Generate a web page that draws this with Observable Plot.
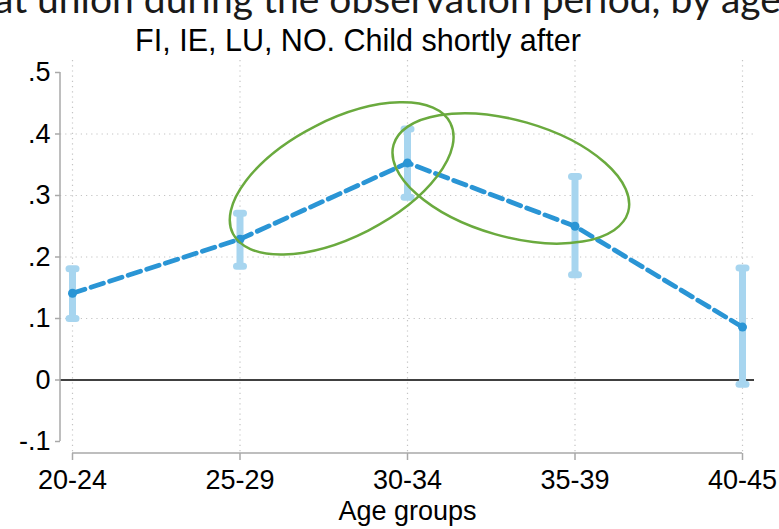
<!DOCTYPE html>
<html><head><meta charset="utf-8">
<script src="https://cdn.jsdelivr.net/npm/d3@7"></script>
<script src="https://cdn.jsdelivr.net/npm/@observablehq/plot@0.6"></script>
<style>
html,body{margin:0;padding:0;background:#fff;overflow:hidden;}
#wrap{position:relative;width:779px;height:529px;overflow:hidden;background:#fff;}
#chart{position:absolute;left:0;top:0;}
#title{position:absolute;left:-6px;top:-21px;white-space:nowrap;font-family:Lato,sans-serif;font-size:39px;color:#1a1a1a;line-height:1;}
#subtitle{position:absolute;left:0;width:716px;text-align:center;top:25px;white-space:nowrap;font-family:"Liberation Sans",Arial,sans-serif;font-size:30.5px;color:#000;line-height:1;}
</style></head>
<body>
<div id="wrap">
  <div id="chart"></div>
  <div id="title">at union during the observation period, by age</div>
  <div id="subtitle">FI, IE, LU, NO. Child shortly after</div>
</div>
<script>
// ---- data ----
const ageGroups = ["20-24", "25-29", "30-34", "35-39", "40-45"];
const estimates = [0.141, 0.229, 0.353, 0.250, 0.086];
const ciLow     = [0.100, 0.185, 0.297, 0.171, -0.007];
const ciHigh    = [0.181, 0.271, 0.408, 0.331, 0.182];
const yTicks    = [-0.1, 0, 0.1, 0.2, 0.3, 0.4, 0.5];
const gridTicks = [0.1, 0.2, 0.3, 0.4];
// annotation ellipses: centre in data units (category index, value)
const ellipseCx = [1.61, 2.62];
const ellipseCy = [0.327, 0.327];

const rows = ageGroups.map((g, i) => ({i, g, est: estimates[i], lo: ciLow[i], hi: ciHigh[i]}));
const idx = ageGroups.map((_, i) => i);

const fmt = d => d === 0 ? "0" : d3.format(".1f")(d).replace("\u2212", "-").replace(/^(-?)0\./, "$1.");
const capSymbol = {draw(ctx) { ctx.moveTo(-3.5, 0); ctx.lineTo(3.5, 0); }};
const ciColor = "#a7d5ef";
const lineColor = "#2a95d5";

const axisLines = (index, scales, values, dim) => {
  const g = d3.create("svg:g").attr("stroke", "#a9a9a9").attr("stroke-width", 1.5).attr("fill", "none");
  g.append("line").attr("x1", dim.marginLeft).attr("x2", dim.marginLeft)
    .attr("y1", scales.y(-0.1)).attr("y2", scales.y(0.5));
  const yb = dim.height - dim.marginBottom;
  g.append("line").attr("x1", scales.x(0)).attr("x2", scales.x(ageGroups.length - 1))
    .attr("y1", yb).attr("y2", yb);
  return g.node();
};

const ellipseSpecs = [{rx: 122, ry: 58.5, angle: -27}, {rx: 122, ry: 58, angle: 16}];
const ellipseMark = (index, scales) => {
  const g = d3.create("svg:g").attr("fill", "none").attr("stroke", "#6aaa3e").attr("stroke-width", 2.5);
  ellipseCx.forEach((cxv, k) => {
    const cx = scales.x(cxv), cy = scales.y(ellipseCy[k]), s = ellipseSpecs[k];
    g.append("ellipse").attr("cx", cx).attr("cy", cy).attr("rx", s.rx).attr("ry", s.ry)
      .attr("transform", `rotate(${s.angle} ${cx} ${cy})`);
  });
  return g.node();
};

const chart = Plot.plot({
  width: 779, height: 529,
  marginLeft: 60, marginRight: 25, marginTop: 60, marginBottom: 76,
  style: {fontFamily: "'Liberation Sans', Arial, sans-serif", fontSize: "27px", background: "transparent", color: "#000"},
  x: {type: "linear", domain: [0, ageGroups.length - 1], range: [72, 742]},
  y: {domain: [-0.1, 0.5], range: [441, 72]},
  marks: [
    Plot.gridY(gridTicks, {stroke: "#c4c4c4", strokeOpacity: 1, strokeDasharray: "1.2,4", strokeWidth: 1.2}),
    Plot.gridX(idx, {stroke: "#c4c4c4", strokeOpacity: 1, strokeDasharray: "1.2,4", strokeWidth: 1.2}),
    Plot.ruleY([0], {stroke: "#000", strokeWidth: 1.5}),
    axisLines,
    Plot.axisY(yTicks, {tickSize: 5, tickPadding: 5, tickFormat: fmt, stroke: "#a9a9a9", strokeWidth: 1.5, fill: "#000", fontSize: 27, label: null}),
    Plot.axisX(idx, {tickSize: 7, tickPadding: 9, tickFormat: i => ageGroups[i], stroke: "#a9a9a9", strokeWidth: 1.5, fill: "#000", fontSize: 27, label: null}),
    Plot.text(["Age groups"], {frameAnchor: "bottom", dy: 58, fontSize: 27, fill: "#000", lineAnchor: "middle"}),
    Plot.ruleX(rows, {x: "i", y1: "lo", y2: "hi", stroke: ciColor, strokeWidth: 7}),
    Plot.dot(rows, {x: "i", y: "lo", symbol: capSymbol, stroke: ciColor, strokeWidth: 7, strokeLinecap: "round", fill: "none"}),
    Plot.dot(rows, {x: "i", y: "hi", symbol: capSymbol, stroke: ciColor, strokeWidth: 7, strokeLinecap: "round", fill: "none"}),
    Plot.line(rows, {x: "i", y: "est", stroke: lineColor, strokeWidth: 4.8, strokeDasharray: "13,6.5"}),
    Plot.dot(rows, {x: "i", y: "est", r: 4.5, fill: lineColor, stroke: "none"}),
    ellipseMark
  ]
});
document.getElementById("chart").appendChild(chart);
</script>
</body></html>
